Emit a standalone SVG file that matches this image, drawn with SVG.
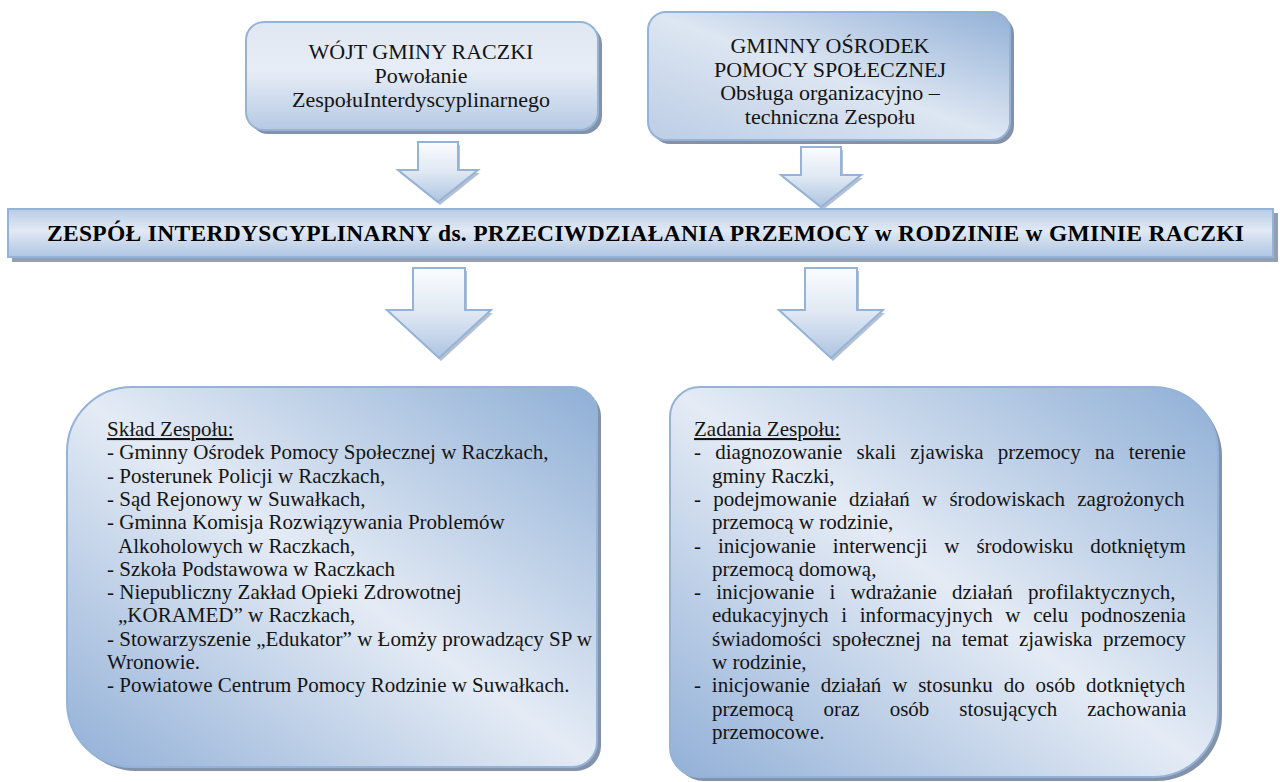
<svg xmlns="http://www.w3.org/2000/svg" width="1280" height="782" viewBox="0 0 1280 782">
<defs>
  <linearGradient id="gTop1" x1="0" y1="0" x2="0" y2="1">
    <stop offset="0" stop-color="#dfe7f2"/>
    <stop offset="0.45" stop-color="#e7edf6"/>
    <stop offset="1" stop-color="#b5c9e3"/>
  </linearGradient>
  <linearGradient id="gTop2" x1="1" y1="0" x2="0" y2="1">
    <stop offset="0" stop-color="#93b1d7"/>
    <stop offset="0.5" stop-color="#dde6f2"/>
    <stop offset="1" stop-color="#bccde5"/>
  </linearGradient>
  <linearGradient id="gBanner" x1="0" y1="0" x2="0" y2="1">
    <stop offset="0" stop-color="#b9cce6"/>
    <stop offset="0.45" stop-color="#e1e9f4"/>
    <stop offset="1" stop-color="#afc5e2"/>
  </linearGradient>
  <linearGradient id="gArrow" x1="0" y1="0" x2="0" y2="1">
    <stop offset="0" stop-color="#fbfcfe"/>
    <stop offset="0.5" stop-color="#dfe8f3"/>
    <stop offset="1" stop-color="#aec4e1"/>
  </linearGradient>
  <linearGradient id="gBig" x1="1" y1="0" x2="0" y2="1">
    <stop offset="0" stop-color="#8fafd6"/>
    <stop offset="0.5" stop-color="#e4ebf5"/>
    <stop offset="1" stop-color="#92b0d7"/>
  </linearGradient>
  <clipPath id="clipTop2">
    <rect x="648" y="12" width="362" height="115.5"/>
  </clipPath>
  <path id="arrowShape" d="M -20,0 H 20 V 28 H 40 L 0,60 L -40,28 H -20 Z"/>
  <path id="arrowShape2" d="M -26,0 H 26 V 42 H 52 L 0,90 L -52,42 H -26 Z"/>
</defs>
<style>
  .box { stroke: #95b3d7; stroke-width: 2; }
  .shadow { fill: #8392a8; }
  .arrow { fill: url(#gArrow); stroke: #95b3d7; stroke-width: 2; stroke-linejoin: miter; }
  .ashadow { fill: #b5c1d0; }
  .t { font-family: "Liberation Serif", "Times New Roman", serif; fill: #141414; }
  .top { font-size: 22px; text-anchor: middle; }
  .body { font-size: 21px; }
  .banner { font-size: 23.5px; font-weight: bold; fill: #000; }
</style>

<g id="wojt">
  <rect class="shadow" x="250" y="26" width="352" height="108" rx="18"/>
  <rect class="box" x="246" y="22" width="352" height="108" rx="18" fill="url(#gTop1)"/>
  <text class="t top"><tspan x="421" y="59">WÓJT GMINY RACZKI</tspan><tspan x="421" y="83">Powołanie</tspan><tspan x="421" y="107">ZespołuInterdyscyplinarnego</tspan></text>
</g>

<g id="gops">
  <rect class="shadow" x="652" y="16" width="362" height="128" rx="18"/>
  <rect class="box" x="648" y="12" width="362" height="128" rx="18" fill="url(#gTop2)"/>
  <text class="t top" clip-path="url(#clipTop2)"><tspan x="830" y="53">GMINNY OŚRODEK</tspan><tspan x="830" y="76.5">POMOCY SPOŁECZNEJ</tspan><tspan x="830" y="100">Obsługa organizacyjno –</tspan><tspan x="830" y="123.5">techniczna Zespołu</tspan></text>
</g>

<g id="connectors">
  <use href="#arrowShape" class="ashadow" transform="translate(440,145)"/>
  <use href="#arrowShape" class="arrow" transform="translate(438,142)"/>
  <use href="#arrowShape" class="ashadow" transform="translate(823,150)"/>
  <use href="#arrowShape" class="arrow" transform="translate(821,147)"/>
  <use href="#arrowShape2" class="ashadow" transform="translate(441,271)"/>
  <use href="#arrowShape2" class="arrow" transform="translate(439,268)"/>
  <use href="#arrowShape2" class="ashadow" transform="translate(833,271)"/>
  <use href="#arrowShape2" class="arrow" transform="translate(831,268)"/>
</g>

<g id="zespol">
  <rect x="12" y="213" width="1266" height="49" fill="#939fb1"/>
  <rect class="box" x="8" y="209" width="1265" height="48" fill="url(#gBanner)"/>
  <text class="t banner" x="47" y="241" textLength="1197" lengthAdjust="spacing">ZESPÓŁ INTERDYSCYPLINARNY ds. PRZECIWDZIAŁANIA PRZEMOCY w RODZINIE w GMINIE RACZKI</text>
</g>

<g id="sklad">
  <path class="shadow" d="M 136,391 H 576 A 25 25 0 0 1 601,416 V 746 A 25 25 0 0 1 576,771 H 136 A 65 65 0 0 1 71,706 V 456 A 65 65 0 0 1 136,391 Z"/>
  <path class="box" fill="url(#gBig)" d="M 132,387 H 572 A 25 25 0 0 1 597,412 V 742 A 25 25 0 0 1 572,767 H 132 A 65 65 0 0 1 67,702 V 452 A 65 65 0 0 1 132,387 Z"/>
  <text class="t body">
    <tspan x="107" y="436" text-decoration="underline">Skład Zespołu:</tspan>
    <tspan x="107" y="459.3">- Gminny Ośrodek Pomocy Społecznej w Raczkach,</tspan>
    <tspan x="107" y="482.6">- Posterunek Policji w Raczkach,</tspan>
    <tspan x="107" y="505.9">- Sąd Rejonowy w Suwałkach,</tspan>
    <tspan x="107" y="529.2">- Gminna Komisja Rozwiązywania Problemów</tspan>
    <tspan x="118" y="552.5">Alkoholowych w Raczkach,</tspan>
    <tspan x="107" y="575.8">- Szkoła Podstawowa w Raczkach</tspan>
    <tspan x="107" y="599.1">- Niepubliczny Zakład Opieki Zdrowotnej</tspan>
    <tspan x="118" y="622.4">„KORAMED” w Raczkach,</tspan>
    <tspan x="107" y="645.7">- Stowarzyszenie „Edukator” w Łomży prowadzący SP w</tspan>
    <tspan x="107" y="669">Wronowie.</tspan>
    <tspan x="107" y="692.3">- Powiatowe Centrum Pomocy Rodzinie w Suwałkach.</tspan>
  </text>
</g>

<g id="zadania">
  <path class="shadow" d="M 704,391 H 1157 A 65 65 0 0 1 1222,456 V 716 A 65 65 0 0 1 1157,781 H 704 A 30 30 0 0 1 674,751 V 421 A 30 30 0 0 1 704,391 Z"/>
  <path class="box" fill="url(#gBig)" d="M 700,387 H 1153 A 65 65 0 0 1 1218,452 V 712 A 65 65 0 0 1 1153,777 H 700 A 30 30 0 0 1 670,747 V 417 A 30 30 0 0 1 700,387 Z"/>
  <text class="t body">
    <tspan x="694" y="436" text-decoration="underline">Zadania Zespołu:</tspan>
    <tspan x="694" y="459.3" style="word-spacing:8.9px">- diagnozowanie skali zjawiska przemocy na terenie</tspan>
    <tspan x="712" y="482.6">gminy Raczki,</tspan>
    <tspan x="694" y="505.9" style="word-spacing:7px">- podejmowanie działań w środowiskach zagrożonych</tspan>
    <tspan x="712" y="529.2">przemocą w rodzinie,</tspan>
    <tspan x="694" y="552.5" style="word-spacing:11.7px">- inicjowanie interwencji w środowisku dotkniętym</tspan>
    <tspan x="712" y="575.8">przemocą domową,</tspan>
    <tspan x="694" y="599.1" style="word-spacing:10px">- inicjowanie i wdrażanie działań profilaktycznych,</tspan>
    <tspan x="712" y="622.4" style="word-spacing:7.4px">edukacyjnych i informacyjnych w celu podnoszenia</tspan>
    <tspan x="712" y="645.7" style="word-spacing:5.3px">świadomości społecznej na temat zjawiska przemocy</tspan>
    <tspan x="712" y="669">w rodzinie,</tspan>
    <tspan x="694" y="692.3" style="word-spacing:5.6px">- inicjowanie działań w stosunku do osób dotkniętych</tspan>
    <tspan x="712" y="715.6" style="word-spacing:24.7px">przemocą oraz osób stosujących zachowania</tspan>
    <tspan x="712" y="738.9">przemocowe.</tspan>
  </text>
</g>
</svg>
